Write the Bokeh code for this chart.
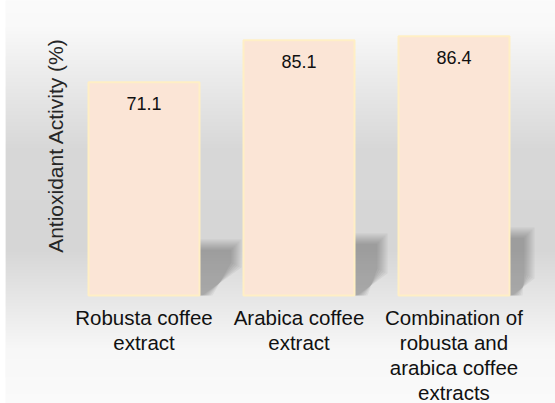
import numpy as np
from bokeh.plotting import figure
from bokeh.models import Range1d, ColumnDataSource
from bokeh.core.properties import value
from bokeh.embed import file_html
from bokeh.resources import INLINE

# --- data -------------------------------------------------------------
categories = [
    "Robusta coffee extract",
    "Arabica coffee extract",
    "Combination of robusta and arabica coffee extracts",
]
category_labels = [
    "Robusta coffee\nextract",
    "Arabica coffee\nextract",
    "Combination of\nrobusta and\narabica coffee\nextracts",
]
activity = [71.1, 85.1, 86.4]
y_title = "Antioxidant Activity (%)"

# --- layout (pixels) --------------------------------------------------
W, H = 555, 403
LEFT = 5            # thin white margin on the left edge
STEP_PX = 155.0     # pixels between category centres
UNIT_PX = 3.0       # pixels per percent
FIRST_PX = 138.5    # frame x of the first category centre
BASE_PX = 295.0     # frame y (from top) of the zero line
BAR_W = 111.0 / STEP_PX
FONT = value("Liberation Sans")


def px_x(px):
    return (px - FIRST_PX) / STEP_PX


def px_y(py):
    return (BASE_PX - py) / UNIT_PX


x_range = Range1d(px_x(0), px_x(W - LEFT))
y_range = Range1d(px_y(H), px_y(0))

p = figure(width=W, height=H, x_range=x_range, y_range=y_range,
           output_backend="svg", toolbar_location=None,
           x_axis_location=None, y_axis_location=None,
           min_border_left=LEFT, min_border_right=0,
           min_border_top=0, min_border_bottom=0)
p.grid.visible = False
p.outline_line_color = None
p.border_fill_color = "white"
p.background_fill_color = "#f9f9f9"

# --- vertical grey background gradient --------------------------------
rows = np.arange(0, H)
stop_px = [0, 25, 150, 250, 350, H]
stop_v = [250, 249, 215, 214, 247, 250]
shade = np.interp(rows + 0.5, stop_px, stop_v)
grad_colors = ["#{0:02x}{0:02x}{0:02x}".format(int(round(s))) for s in shade]
p.quad(left=x_range.start, right=x_range.end,
       top=px_y(rows - 0.5), bottom=px_y(rows + 1),
       fill_color=grad_colors, line_color=None)

# --- soft drop shadows to the right of each bar ------------------------
idx = list(range(len(activity)))
shadow_ext = [42, 33, 25]    # reach to the right, px
shadow_h = [56, 62, 68]      # height above the base, px
shadow_r = [28, 22, 17]      # where the slanted lower edge meets the right side
layers = 6
sx, sy = [], []
for i in idx:
    xr = i + BAR_W / 2
    e, h, r = shadow_ext[i], shadow_h[i], shadow_r[i]
    for k in range(layers):
        d = 2 * k
        pts = [(-5, 0), (-5, h - d), (e - d, h - d), (e - d, r + d * 0.5), (3 + d, 0)]
        sx.append([xr + a / STEP_PX for a, _ in pts])
        sy.append([b / UNIT_PX for _, b in pts])
p.patches(xs=sx, ys=sy, fill_color="black", fill_alpha=0.048, line_color=None)

# --- bars ----------------------------------------------------------------
src = ColumnDataSource(dict(
    x=idx, top=activity, label=[f"{v:.1f}" for v in activity],
    cat=category_labels, name=categories,
))
p.vbar(x="x", top="top", bottom=0, width=BAR_W, source=src,
       fill_color="#FBE5D6", line_color="#FFEFC5", line_width=2)

# value labels inside the bars
p.text(x="x", y="top", text="label", source=src, y_offset=15,
       text_align="center", text_baseline="top",
       text_font=FONT, text_font_size="18px", text_color="#111111")

# category labels below the bars
p.text(x="x", y=0, text="cat", source=src, y_offset=10,
       text_align="center", text_baseline="top", text_line_height=1.1,
       text_font=FONT, text_font_size="20.5px", text_color="#111111")

# rotated y-axis title
p.text(x=[px_x(50)], y=[px_y(145)], text=[y_title], angle=np.pi / 2,
       text_align="center", text_baseline="middle",
       text_font=FONT, text_font_size="21px", text_color="#262626")

open("out.html", "w").write(file_html(p, INLINE))
